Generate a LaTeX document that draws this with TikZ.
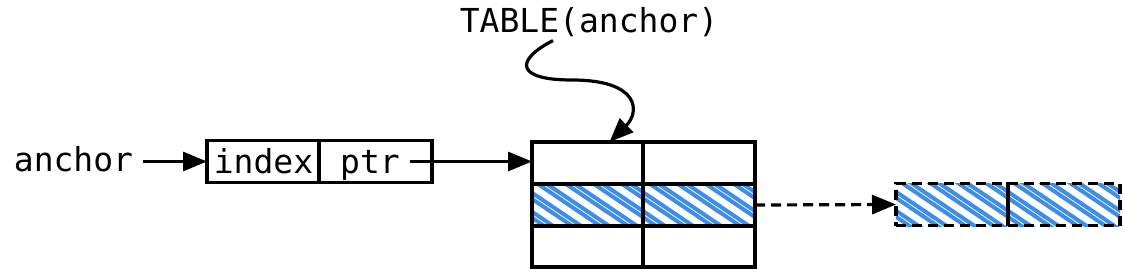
\documentclass[tikz,border=0pt]{standalone}
\usepackage{fontspec}
\setmonofont{DejaVu Sans Mono}
\usetikzlibrary{arrows.meta,backgrounds}
\definecolor{hblue}{RGB}{60,142,234}
\tikzset{
  cell/.style={draw, line width=3.4pt, inner sep=0pt, outer sep=0pt, minimum width=112pt, minimum height=42pt},
  dcell/.style={cell, dash pattern=on 10pt off 6pt},
  lbl/.style={font=\ttfamily\fontsize{33}{38}\selectfont, inner sep=0pt, anchor=base},
  arr/.style={line width=3.2pt, -{Triangle[length=24pt,width=19pt]}},
  dasharr/.style={arr, dash pattern=on 10pt off 6pt},
  hatchline/.style={hblue, line width=4pt, line cap=round},
}
\newcommand\hatchrect[4]{%
  \begin{scope}
    \clip (#1,#2) rectangle (#3,#4);
    \foreach \s in {-140,-112,...,260}{
      \draw[hatchline] ({#1+\s},{#2-4}) -- ++(80,54);
      \draw[hatchline] ({#1+\s+9},{#2-4}) -- ++(80,54);
    }
  \end{scope}}
\begin{document}
\begin{tikzpicture}[x=1pt,y=-1pt]
\useasboundingbox (0,0) rectangle (1124,270);
% left pointer
\node[lbl] (anc) at (73.5,171) {anchor};
\node[cell] (idx) at (263,161.5) {};
\node[cell, minimum width=113pt] (ptr) at (375.5,161.5) {};
\node[lbl] (idxl) at (263.5,173) {index};
\node[lbl] (ptrl) at (370,173) {ptr};
\coordinate (ps) at (410,161.5);
% table
\node[cell, minimum width=111pt] (t11) at (587.5,163) {};
\node[cell] (t12) at (699,163) {};
\node[cell, minimum width=111pt] (t21) at (587.5,205) {};
\node[cell] (t22) at (699,205) {};
\node[cell, minimum width=111pt, minimum height=41pt] (t31) at (587.5,246.5) {};
\node[cell, minimum height=41pt] (t32) at (699,246.5) {};
% dashed cells
\node[dcell] (d1) at (952,204.5) {};
\node[dcell] (d2) at (1064,204.5) {};
% label
\node[lbl] (tbl) at (589,33) {TABLE(anchor)};
% hatching
\begin{scope}[on background layer]
  \hatchrect{532}{184}{755}{226}
  \hatchrect{896}{183}{1120}{226}
\end{scope}
% connectors
\draw[arr, shorten <=10pt] (anc.east |- idx.west) -- (idx.west);
\draw[arr] (ps) -- (ps -| t11.west);
\draw[dasharr] (t22.east) -- (d1.west);
\draw[arr] ([xshift=-36pt,yshift=-3pt]tbl.south) .. controls (515,60) and (515,80) .. (572,80)
  .. controls (640,80) and (640,112) .. ([xshift=22pt]t11.north);
\end{tikzpicture}
\end{document}
